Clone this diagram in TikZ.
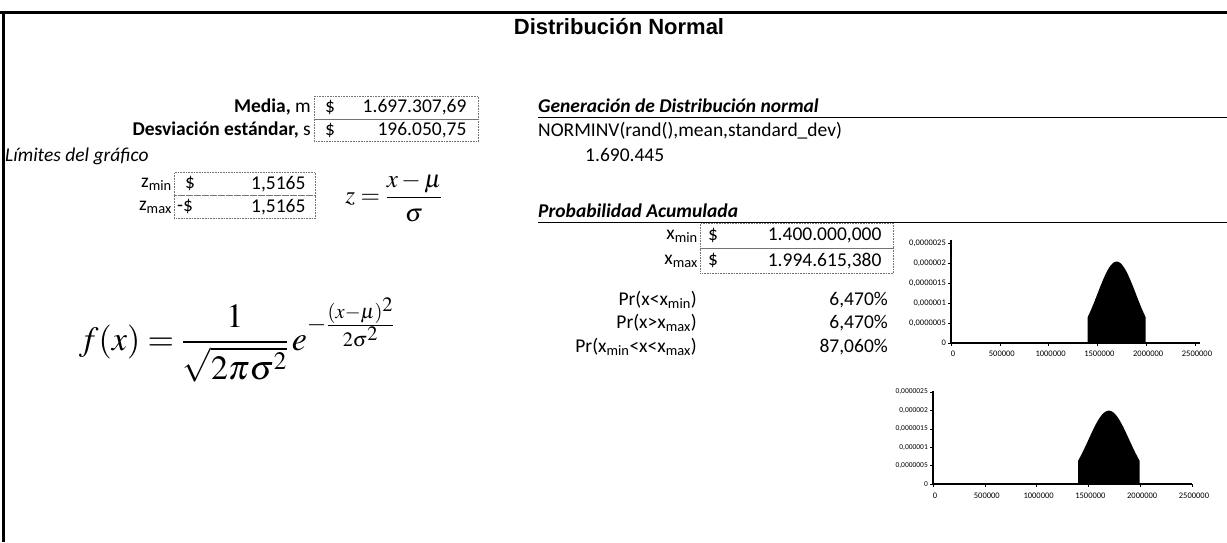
\documentclass[tikz,border=0pt]{standalone}
\usepackage{amsmath}
\usepackage{mathptmx}
\usepackage{fontspec}
\setmainfont{Carlito}
\newfontfamily\arialfont{Liberation Sans}
\usetikzlibrary{positioning}
\tikzset{
  txt/.style={inner sep=0pt, font=\fontsize{19.5}{21}\selectfont},
  lbl/.style={txt, anchor=east},
  head/.style={txt, anchor=west, font=\fontsize{19.5}{21}\selectfont\bfseries\itshape},
  cell/.style={draw=black!55, densely dotted, line width=0.6pt, inner sep=0pt},
  rule/.style={line width=0.9pt},
  frame/.style={line width=3pt},
  axis/.style={line width=1.2pt},
  tick/.style={inner sep=0pt, font=\fontsize{8.5}{9}\selectfont},
  bell/.style={fill=black}
}
\newcommand{\lo}[1]{\textsubscript{#1}}
\begin{document}
\begin{tikzpicture}[x=1pt, y=-1pt]
\useasboundingbox (0,0) rectangle (1227,542);
% frame
\coordinate (tl) at (3,12);
\coordinate (tr) at (1227,12);
\coordinate (bl) at (3,542);
\draw[frame] (0,12) -- (tr);
\draw[frame] (tl) -- (bl);
\node[inner sep=0pt, font=\fontsize{22}{24}\selectfont\arialfont\bfseries] (title) at (619,27) {Distribución Normal};

% parameters
\node[cell, minimum width=164, minimum height=22.5, anchor=north west] (mediacell) at (314,96) {};
\node[cell, minimum width=164, minimum height=22.5, anchor=north west] (desvcell) at (314,118.5) {};
\node[lbl] (media) at (311,107) {\textbf{Media,} m};
\node[lbl] (desv) at (311,130) {\textbf{Desviación estándar,} s};
\node[txt, anchor=west] at ([xshift=11]mediacell.west) {\$};
\node[txt, anchor=east] (mediaval) at ([xshift=-12]mediacell.east) {1.697.307,69};
\node[txt, anchor=west] at ([xshift=11]desvcell.west) {\$};
\node[txt, anchor=east] (desvval) at ([xshift=-12]desvcell.east) {196.050,75};

% limits
\node[txt, anchor=west, font=\fontsize{19.5}{21}\selectfont\itshape] (limites) at (5,156) {Límites del gráfico};
\node[cell, minimum width=141, minimum height=23, anchor=north west] (zmincell) at (174,172) {};
\node[cell, minimum width=141, minimum height=23, anchor=north west] (zmaxcell) at (174,195) {};
\node[lbl] (zmin) at (172,184) {z\lo{min}};
\node[lbl] (zmax) at (172,207) {z\lo{max}};
\node[txt, anchor=west] at ([xshift=11]zmincell.west) {\$};
\node[txt, anchor=east] (zminval) at ([xshift=-10]zmincell.east) {1,5165};
\node[txt, anchor=west] at ([xshift=3]zmaxcell.west) {-\$};
\node[txt, anchor=east] (zmaxval) at ([xshift=-10]zmaxcell.east) {1,5165};
\node[inner sep=0pt, font=\fontsize{25}{27}\selectfont] (zform) at (394,197) {$z=\dfrac{x-\mu}{\sigma}$};
\node[inner sep=0pt, font=\fontsize{34}{37}\selectfont] (fform) at (237,340) {$f(x)=\dfrac{1}{\sqrt{2\pi\sigma^2}}\,e^{-\frac{(x-\mu)^2}{2\sigma^2}}$};

% generation
\node[head] (gen) at (538,106) {Generación de Distribución normal};
\draw[rule] (538,117) -- (1227,117);
\node[txt, anchor=west] (norminv) at (538,131) {NORMINV(rand(),mean,standard\_dev)};
\node[txt, anchor=west] (genval) at (585,155) {1.690.445};

% cumulative probability
\node[head] (prob) at (538,211) {Probabilidad Acumulada};
\draw[rule] (538,222.5) -- (1227,222.5);
\node[cell, minimum width=193, minimum height=25, anchor=north west] (xmincell) at (700,223) {};
\node[cell, minimum width=193, minimum height=25, anchor=north west] (xmaxcell) at (700,248) {};
\node[lbl] (xmin) at (698,236) {x\lo{min}};
\node[lbl] (xmax) at (698,261) {x\lo{max}};
\node[txt, anchor=west] at ([xshift=8]xmincell.west) {\$};
\node[txt, anchor=east] (xminval) at ([xshift=-12]xmincell.east) {1.400.000,000};
\node[txt, anchor=west] at ([xshift=8]xmaxcell.west) {\$};
\node[txt, anchor=east] (xmaxval) at ([xshift=-12]xmaxcell.east) {1.994.615,380};
\node[lbl] (prlow) at (697,300) {Pr(x<x\lo{min})};
\node[lbl] (prhigh) at (697,323) {Pr(x>x\lo{max})};
\node[lbl] (prmid) at (697,347) {Pr(x\lo{min}<x<x\lo{max})};
\node[lbl] (prlowval) at (888,300) {6,470\%};
\node[lbl] (prhighval) at (888,323) {6,470\%};
\node[lbl] (prmidval) at (888,347) {87,060\%};

% chart 1
\coordinate (o1) at (951,343);
\fill[bell] (951+97.6*1.4,343) -- plot[domain=1.4:1.9946, samples=60] ({951+97.6*\x},{343-81.4*exp(-((\x-1.6973)/0.19605)^2/2)}) -- (951+97.6*1.9946,343) -- cycle;
\draw[axis] (951,240) -- (o1) -- (1200,343);
\foreach \v [count=\i from 0] in {0,{0,0000005},{0,000001},{0,0000015},{0,000002},{0,0000025}}
  \node[tick, anchor=east] at (946,343-20*\i) {\v};
\foreach \i in {0,...,5}
  \draw (948,343-20*\i) -- (951,343-20*\i);
\foreach \v [count=\i from 0] in {0,500000,1000000,1500000,2000000,2500000}{
  \draw (951+48.8*\i,343) -- (951+48.8*\i,346);
  \node[tick] at (953+48.8*\i,354) {\v};
}

% chart 2
\coordinate (o2) at (933,484);
\fill[bell] (933+103.6*1.4,484) -- plot[domain=1.4:1.9946, samples=60] ({933+103.6*\x},{484-73.3*exp(-((\x-1.6973)/0.19605)^2/2)}) -- (933+103.6*1.9946,484) -- cycle;
\draw[axis] (933,391) -- (o2) -- (1192,484);
\foreach \v [count=\i from 0] in {0,{0,0000005},{0,000001},{0,0000015},{0,000002},{0,0000025}}
  \node[tick, anchor=east, font=\fontsize{7.5}{8}\selectfont] at (928,484-18.4*\i) {\v};
\foreach \i in {0,...,5}
  \draw (930,484-18.4*\i) -- (933,484-18.4*\i);
\foreach \v [count=\i from 0] in {0,500000,1000000,1500000,2000000,2500000}{
  \draw (933+51.8*\i,484) -- (933+51.8*\i,487);
  \node[tick] at (935+51.8*\i,496) {\v};
}
\end{tikzpicture}
\end{document}
